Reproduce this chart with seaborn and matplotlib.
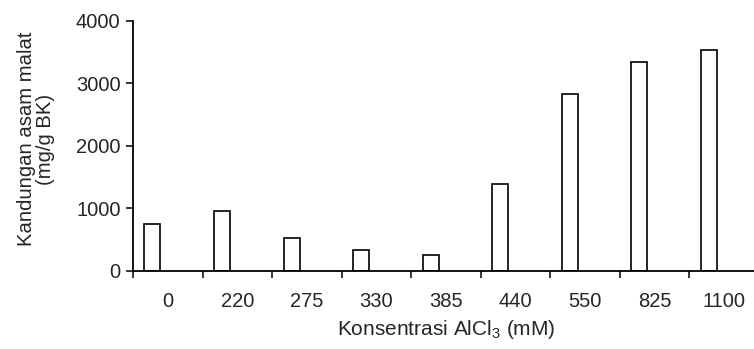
import numpy as np
import pandas as pd
import matplotlib
matplotlib.use("Agg")
import matplotlib.pyplot as plt
import seaborn as sns

# data
konsentrasi = ['0', '220', '275', '330', '385', '440', '550', '825', '1100']
asam_malat = [747, 955, 518, 336, 246, 1387, 2827, 3334, 3526]

sns.set_style("ticks")
plt.rcParams['font.family'] = ['Liberation Sans', 'DejaVu Sans']
plt.rcParams['mathtext.fontset'] = 'custom'
plt.rcParams['mathtext.rm'] = 'Liberation Sans'

df = pd.DataFrame({'konsentrasi': konsentrasi, 'malat': asam_malat})
df['pos'] = np.arange(len(df)) + 0.28

fig = plt.figure(figsize=(7.54, 3.49), dpi=100)
ax = fig.add_axes([133 / 754, 1 - 270.7 / 349, (759 - 133) / 754, 250 / 349])

sns.barplot(data=df, x='pos', y='malat', native_scale=True, width=0.23,
            color='white', edgecolor='black', linewidth=1.2, ax=ax)

ax.set_xlim(0, len(df))
ax.set_ylim(0, 4000)
ax.set_yticks([0, 1000, 2000, 3000, 4000])

# tick marks at category borders, labels at category centres
ax.set_xticks(np.arange(len(df) + 1))
ax.set_xticklabels([])
ax.set_xticks(np.arange(len(df)) + 0.5, minor=True)
ax.set_xticklabels(konsentrasi, minor=True)
ax.tick_params(axis='x', which='major', length=5, width=1.3, direction='out')
ax.tick_params(axis='x', which='minor', length=0, pad=15, labelsize=14.5)
ax.tick_params(axis='y', length=5, width=1.3, direction='out', labelsize=14.5, pad=4)

sns.despine(ax=ax)
for s in ['left', 'bottom']:
    ax.spines[s].set_linewidth(1.3)
    ax.spines[s].set_color('black')

ax.set_xlabel('Konsentrasi AlCl$_3$ (mM)', fontsize=15)
ax.xaxis.set_label_coords(0.5, -0.19)
ax.set_ylabel('Kandungan asam malat\n(mg/g BK)', fontsize=14.6, linespacing=1.0)
ax.yaxis.set_label_coords(-0.125, 0.527)

fig.savefig('out.png', dpi=100)
